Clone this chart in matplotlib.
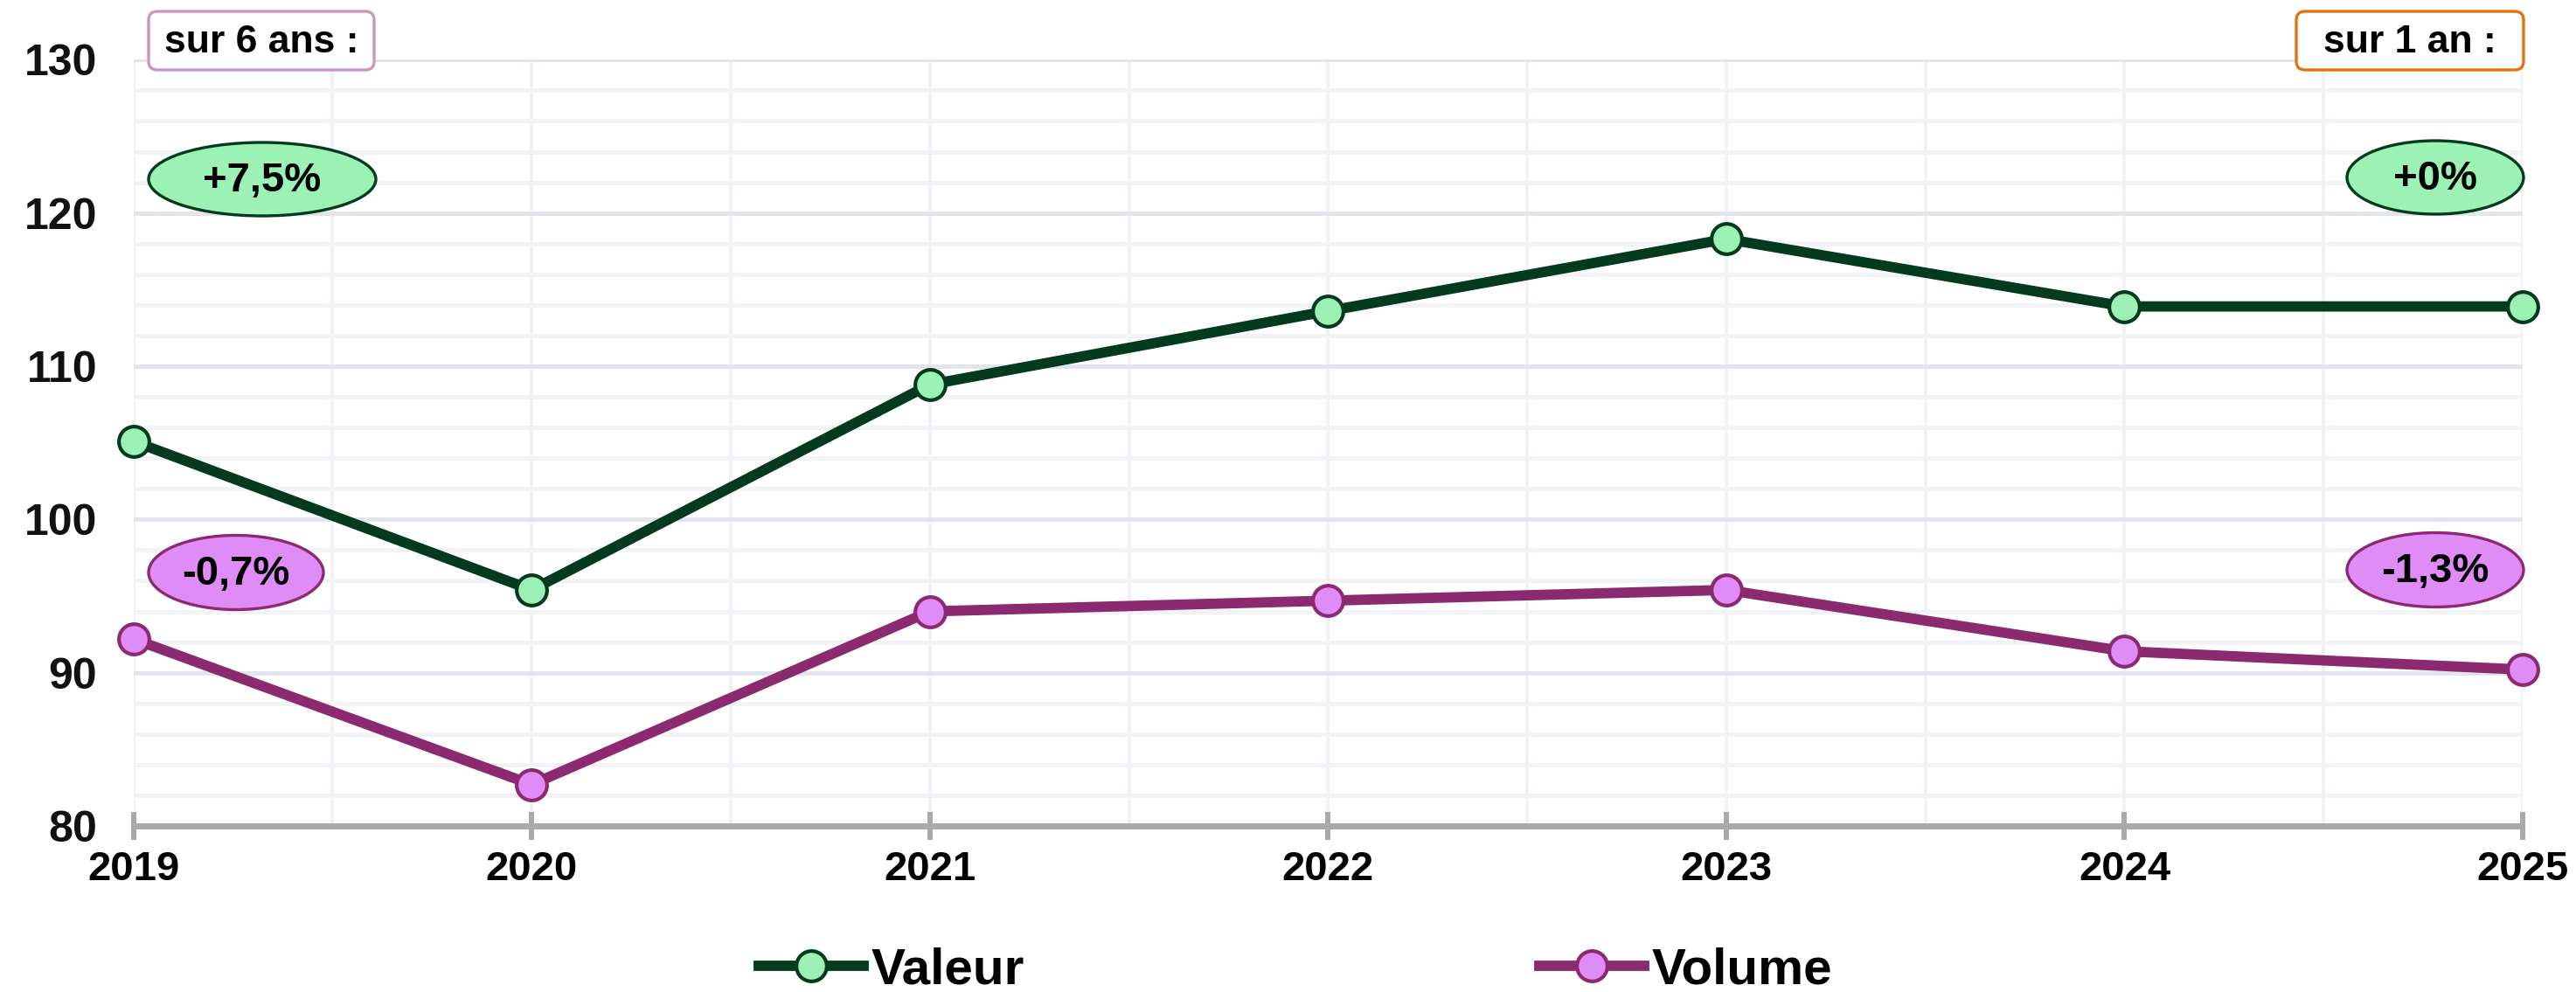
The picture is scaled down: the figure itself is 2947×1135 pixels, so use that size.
import matplotlib
matplotlib.use("Agg")
import matplotlib.pyplot as plt
from matplotlib.patches import Ellipse, FancyBboxPatch
from matplotlib.ticker import MultipleLocator

plt.rcParams['font.family'] = ['Liberation Sans', 'DejaVu Sans']
plt.rcParams['font.weight'] = 'bold'

# Data
years = [2019, 2020, 2021, 2022, 2023, 2024, 2025]
valeur = [105.1, 95.4, 108.8, 113.6, 118.3, 113.9, 113.9]
volume = [92.2, 82.7, 94.0, 94.7, 95.4, 91.4, 90.2]
series_names = ["Valeur", "Volume"]
change_6y = ["+7,5%", "-0,7%"]
change_1y = ["+0%", "-1,3%"]
period_labels = ["sur 6 ans :", "sur 1 an :"]

# Styles
W, H, DPI = 2947, 1135, 100
green_line, green_fill = "#043b1e", "#9cf1b4"
purple_line, purple_fill = "#8c2a6f", "#df8cf6"
axis_gray = "#a9a9a9"

fig = plt.figure(figsize=(W / DPI, H / DPI), dpi=DPI)
fig.patch.set_facecolor("white")

# main axes placed in pixel units
left_px, right_px, top_px, bottom_px = 152.7, 2886, 68.3, 945
ax = fig.add_axes([left_px / W, 1 - bottom_px / H,
                   (right_px - left_px) / W, (bottom_px - top_px) / H])
ax.set_xlim(2019, 2025)
ax.set_ylim(80, 130)

ax.xaxis.set_major_locator(MultipleLocator(1))
ax.xaxis.set_minor_locator(MultipleLocator(0.5))
ax.yaxis.set_major_locator(MultipleLocator(10))
ax.yaxis.set_minor_locator(MultipleLocator(2))

ax.grid(which="major", axis="y", color="#e2e6ec", lw=3.6, zorder=0)
ax.grid(which="minor", axis="y", color="#f1f3f6", lw=3.6, zorder=0)
ax.grid(which="both", axis="x", color="#f0f2f5", lw=2.8, zorder=0)
ax.set_axisbelow(True)

for s in ["top", "right", "left"]:
    ax.spines[s].set_visible(False)
ax.spines["bottom"].set_color(axis_gray)
ax.spines["bottom"].set_linewidth(5)
ax.spines["bottom"].set_capstyle("butt")

ax.tick_params(axis="x", which="major", direction="inout", length=23, width=4.3,
               color=axis_gray, pad=9, labelsize=34)
ax.tick_params(axis="x", which="minor", length=0)
ax.tick_params(axis="y", which="both", length=0, pad=30, labelsize=36)
ax.set_xticks(years)
ax.set_xticklabels([str(y) for y in years], fontweight="bold")
for lab in ax.get_yticklabels():
    lab.set_fontweight("bold")
    lab.set_color("#111111")

ax.plot(years, valeur, color=green_line, lw=8.5, marker="o", ms=25,
        mfc=green_fill, mec=green_line, mew=3, clip_on=False, zorder=5,
        label=series_names[0])
ax.plot(years, volume, color=purple_line, lw=8.5, marker="o", ms=25,
        mfc=purple_fill, mec=purple_line, mew=3, clip_on=False, zorder=5,
        label=series_names[1])

ax.legend(loc="center", bbox_to_anchor=(1482 / W, 1 - 1110 / H),
          bbox_transform=fig.transFigure, ncol=2, frameon=False,
          handlelength=2.05, handletextpad=0.15,
          columnspacing=10.1, borderpad=0, prop={"weight": "bold", "size": 42})

# overlay axes in pixel coordinates (origin top-left) for the annotations
ov = fig.add_axes([0, 0, 1, 1], facecolor="none")
ov.set_xlim(0, W)
ov.set_ylim(H, 0)
ov.axis("off")

# change bubbles
bubbles = [
    (change_6y[0], 300, 205, 260, 84, green_fill, green_line),
    (change_1y[0], 2786, 203, 202, 84, green_fill, green_line),
    (change_6y[1], 270, 655, 200, 85, purple_fill, purple_line),
    (change_1y[1], 2786, 652, 202, 85, purple_fill, purple_line),
]
for text, cx, cy, w, h, fc, ec in bubbles:
    ov.add_patch(Ellipse((cx, cy), w, h, facecolor=fc, edgecolor=ec,
                         lw=2.4, zorder=10))
    ov.text(cx, cy + 2, text, ha="center", va="center", fontsize=34,
            fontweight="bold", color="black", zorder=11)

# period boxes
boxes = [
    (period_labels[0], 170, 13, 428, 80, "#c997bc"),
    (period_labels[1], 2627, 13, 2887, 80, "#e4720f"),
]
for text, x0, y0, x1, y1, ec in boxes:
    r = 10
    ov.add_patch(FancyBboxPatch((x0 + r, y0 + r), x1 - x0 - 2 * r, y1 - y0 - 2 * r,
                                boxstyle=f"round,pad={r},rounding_size={r}",
                                facecolor="white", edgecolor=ec, lw=2.4,
                                zorder=10))
    ov.text((x0 + x1) / 2, (y0 + y1) / 2 + 2, text, ha="center", va="center",
            fontsize=32, fontweight="bold", color="black", zorder=11)

fig.savefig("out.png", dpi=DPI, facecolor="white")
